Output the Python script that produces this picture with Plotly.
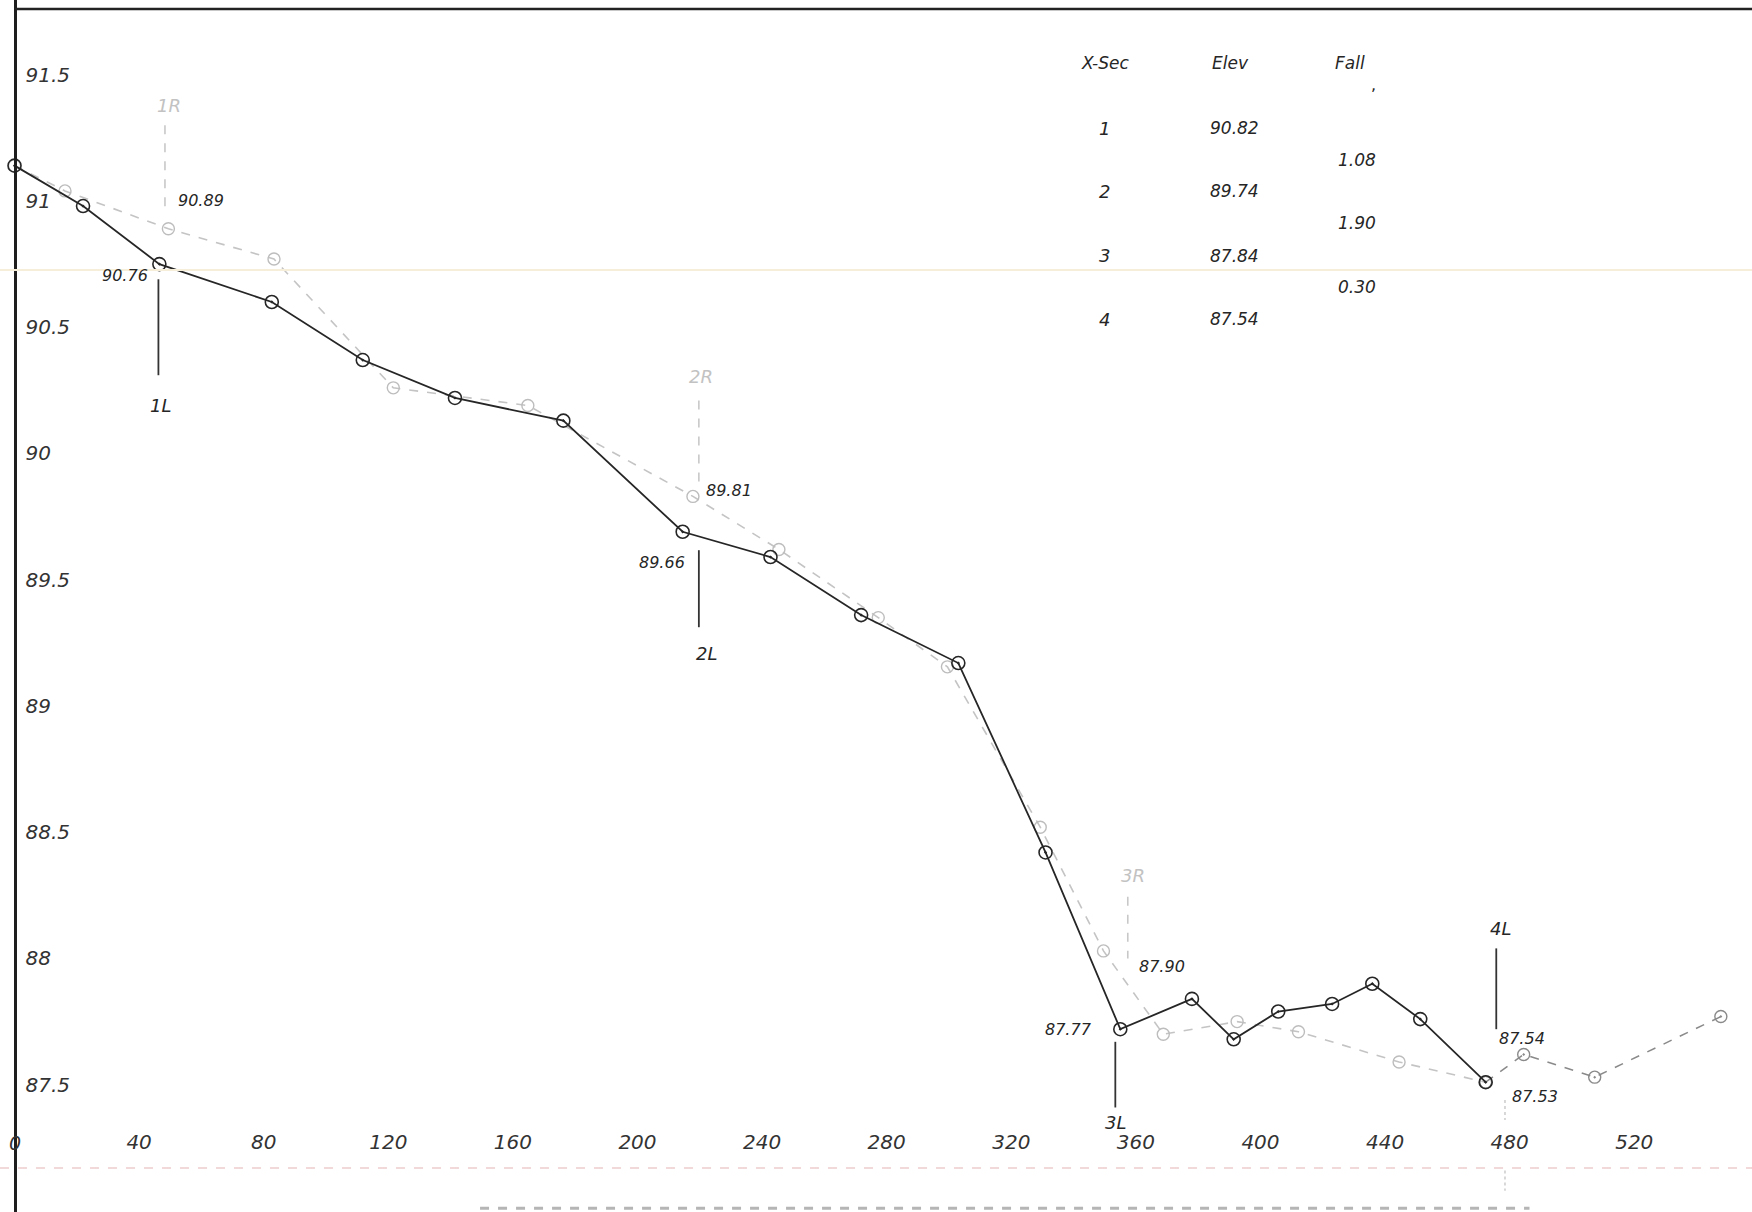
import plotly.graph_objects as go

# ---- data read from the hand-drawn profile ----
# Left-bank ("L") profile: station (ft) and elevation
x_left = [0, 22, 46.5, 82.6, 111.8, 141.4, 176.2, 214.5, 242.7, 271.8, 303, 331,
          355, 378, 391.4, 405.7, 423, 435.9, 451.3, 472.3]
y_left = [91.14, 90.98, 90.75, 90.60, 90.37, 90.22, 90.13, 89.69, 89.59, 89.36, 89.17,
          88.42, 87.72, 87.84, 87.68, 87.79, 87.82, 87.90, 87.76, 87.51]
# Right-bank ("R") profile (drawn faint / dashed)
x_right = [0, 16.2, 49.4, 83.3, 121.6, 164.8, 217.8, 245.4, 277.3, 299.5, 329.3,
           349.6, 368.8, 392.5, 412.2, 444.5, 472.3]
y_right = [91.14, 91.04, 90.89, 90.77, 90.26, 90.19, 89.83, 89.62, 89.35, 89.155,
           88.52, 88.03, 87.70, 87.75, 87.71, 87.59, 87.51]
# Downstream continuation beyond cross-section 4
x_tail = [472.3, 484.5, 507.3, 547.8]
y_tail = [87.51, 87.62, 87.53, 87.77]

# axis ticks
x_ticks = [40, 80, 120, 160, 200, 240, 280, 320, 360, 400, 440, 480, 520]
x_ticktext = ["40", "80", "120", "160", "200", "240", "280", "320", "360", "400", "440", "480", "520"]
x_origin_label = "0"
y_ticks = [87.5, 88, 88.5, 89, 89.5, 90, 90.5, 91, 91.5]
y_ticktext = ["87.5", "88", "88.5", "89", "89.5", "90", "90.5", "91", "91.5"]

# cross-section markers: label, station, line start/end elevation, label elevation
xsec_names = ["1L", "1R", "2L", "2R", "3L", "3R", "4L"]
xsec_x = [46.2, 48.3, 219.7, 219.7, 353.4, 357.4, 475.7]
xsec_y0 = [90.69, 91.30, 89.617, 90.21, 87.67, 88.245, 88.04]
xsec_y1 = [90.31, 90.967, 89.312, 89.88, 87.41, 88.00, 87.72]
xsec_lx = [47.0, 49.5, 222.0, 220.3, 353.4, 359.2, 477.0]
xsec_ly = [90.19, 91.378, 89.206, 90.305, 87.35, 88.33, 88.12]
xsec_side = ["L", "R", "L", "R", "L", "R", "L"]

# point elevation notes
note_text = ["90.89", "90.76", "89.81", "89.66", "87.90", "87.77", "87.54", "87.53"]
note_x = [59.9, 35.5, 229.5, 208.0, 368.3, 338.3, 484.0, 488.0]
note_y = [91.0, 90.705, 89.855, 89.57, 87.97, 87.72, 87.685, 87.455]

# summary table
tab_sec = ["1", "2", "3", "4"]
tab_elev = ["90.82", "89.74", "87.84", "87.54"]
tab_fall = ["1.08", "1.90", "0.30"]
tab_row_y = [91.288, 91.038, 90.783, 90.531]
tab_fall_y = [91.163, 90.912, 90.661]

FONT = "DejaVu Sans"
INK = "#262626"
FAINT = "#c2c2c2"

fig = go.Figure()

fig.add_trace(go.Scatter(
    x=x_right, y=y_right, mode="lines+markers", name="Right bank",
    line=dict(color="#c4c4c4", width=1.6, dash="dash"),
    marker=dict(symbol="circle-open", size=12, color="#bdbdbd", line=dict(width=1.4)),
))
fig.add_trace(go.Scatter(
    x=x_tail, y=y_tail, mode="lines+markers", name="Downstream",
    line=dict(color="#8a8a8a", width=1.5, dash="dash"),
    marker=dict(symbol="circle-open-dot", size=12, color="#8a8a8a", line=dict(width=1.4)),
))
fig.add_trace(go.Scatter(
    x=x_left, y=y_left, mode="lines+markers", name="Left bank",
    line=dict(color=INK, width=1.8),
    marker=dict(symbol="circle-open-dot", size=13, color=INK, line=dict(width=1.6)),
))

shapes = []
for nm, xx, a, b, side in zip(xsec_names, xsec_x, xsec_y0, xsec_y1, xsec_side):
    if side == "L":
        shapes.append(dict(type="line", xref="x", yref="y", x0=xx, x1=xx, y0=a, y1=b,
                           line=dict(color="#333333", width=1.8)))
    else:
        shapes.append(dict(type="line", xref="x", yref="y", x0=xx, x1=xx, y0=a, y1=b,
                           line=dict(color="#c8c8c8", width=1.6, dash="dash")))
# 4R mark below the profile
shapes.append(dict(type="line", xref="x", yref="y", x0=478.5, x1=478.5, y0=87.44, y1=87.36,
                   line=dict(color="#c8c8c8", width=1.4, dash="dot")))
shapes.append(dict(type="line", xref="x", yref="y", x0=478.5, x1=478.5, y0=87.16, y1=87.08,
                   line=dict(color="#c8c8c8", width=1.4, dash="dot")))
# page frame / paper artefacts
shapes.append(dict(type="line", xref="paper", yref="paper", x0=0.0083, x1=1, y0=0.9926, y1=0.9926,
                   line=dict(color="#222222", width=2.5)))
shapes.append(dict(type="line", xref="paper", yref="paper", x0=0, x1=1, y0=0.7772, y1=0.7772,
                   line=dict(color="#f6eed8", width=2)))
shapes.append(dict(type="line", xref="paper", yref="paper", x0=0, x1=1, y0=0.0363, y1=0.0363,
                   line=dict(color="#f1d9d9", width=2, dash="dash")))
shapes.append(dict(type="line", xref="paper", yref="paper", x0=0.274, x1=0.873, y0=0.003, y1=0.003,
                   line=dict(color="#b5b5b5", width=3, dash="dash")))

annotations = []
# origin label of the station axis, drawn on the elevation axis
annotations.append(dict(x=0, y=87.27, xref="x", yref="y", text=x_origin_label, showarrow=False,
                        font=dict(family=FONT, size=19, style="italic", color="#333333")))
for nm, lx, ly, side in zip(xsec_names, xsec_lx, xsec_ly, xsec_side):
    annotations.append(dict(x=lx, y=ly, xref="x", yref="y", text=nm, showarrow=False,
                            font=dict(family=FONT, size=18, style="italic",
                                      color=INK if side == "L" else FAINT)))
for t, nx, ny in zip(note_text, note_x, note_y):
    annotations.append(dict(x=nx, y=ny, xref="x", yref="y", text=t, showarrow=False,
                            font=dict(family=FONT, size=16, style="italic", color=INK)))
# table header
for t, hx in zip(["X-Sec", "Elev", "Fall"], [350.1, 390.3, 428.7]):
    annotations.append(dict(x=hx, y=91.546, xref="x", yref="y", text=t, showarrow=False,
                            font=dict(family=FONT, size=17, style="italic", color=INK)))
annotations.append(dict(x=436.2, y=91.46, xref="x", yref="y", text=",", showarrow=False,
                        font=dict(family=FONT, size=16, color=INK)))
for s, e, ry in zip(tab_sec, tab_elev, tab_row_y):
    annotations.append(dict(x=350.0, y=ry, xref="x", yref="y", text=s, showarrow=False,
                            font=dict(family=FONT, size=18, style="italic", color=INK)))
    annotations.append(dict(x=391.6, y=ry, xref="x", yref="y", text=e, showarrow=False,
                            font=dict(family=FONT, size=17, style="italic", color=INK)))
for f, fy in zip(tab_fall, tab_fall_y):
    annotations.append(dict(x=431.0, y=fy, xref="x", yref="y", text=f, showarrow=False,
                            font=dict(family=FONT, size=17, style="italic", color=INK)))

fig.update_layout(
    width=1752, height=1212, autosize=False,
    margin=dict(l=0, r=0, t=0, b=0, pad=0),
    paper_bgcolor="white", plot_bgcolor="white",
    showlegend=False,
    shapes=shapes, annotations=annotations,
    xaxis=dict(range=[-4.66, 557.8], tickvals=x_ticks, ticktext=x_ticktext,
               anchor="free", position=0.069, showline=False, showgrid=False,
               zeroline=False, ticks="",
               tickfont=dict(family=FONT, size=20, style="italic", color="#333333")),
    yaxis=dict(range=[86.996, 91.796], tickvals=y_ticks, ticktext=y_ticktext,
               anchor="free", position=0.0083, showline=True, linecolor="#1e1e1e",
               linewidth=3, showgrid=False, zeroline=False,
               ticks="inside", ticklen=10, tickcolor="rgba(0,0,0,0)",
               ticklabelposition="inside",
               tickfont=dict(family=FONT, size=20, style="italic", color="#333333")),
)

fig.write_html("out.html", config={"displayModeBar": False},
               post_script="document.body.style.margin='0';")
